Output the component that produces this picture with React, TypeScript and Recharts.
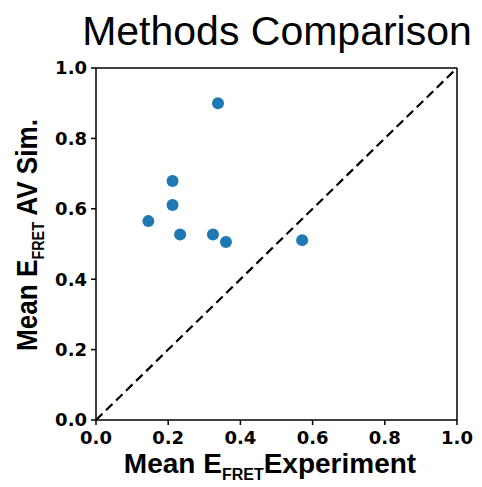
import React from 'react';
import {
  ScatterChart,
  Scatter,
  XAxis,
  YAxis,
  ReferenceLine,
} from 'recharts';

const experiment = [0.338, 0.212, 0.212, 0.145, 0.233, 0.324, 0.36, 0.571];
const avSim = [0.9, 0.679, 0.611, 0.565, 0.527, 0.527, 0.506, 0.511];
const ticks = [0, 0.2, 0.4, 0.6, 0.8, 1.0];

const points = experiment.map((x, i) => ({ x, y: avSim[i] }));

const tickStyle = {
  fill: '#000',
  fontFamily: 'DejaVu Sans',
  fontWeight: 'bold' as const,
  fontSize: 18,
};

const labelFont = 'Liberation Sans, Arial, sans-serif';

const XLabel = () => (
  <text x={270} y={473} textAnchor="middle" fontFamily={labelFont} fontWeight="bold" fontSize={28} fill="#000">
    Mean E
    <tspan fontSize={16} dy={7}>FRET</tspan>
    <tspan dy={-7}>Experiment</tspan>
  </text>
);

const YLabel = () => (
  <text
    x={0}
    y={0}
    transform="translate(37, 235) rotate(-90) scale(0.9, 1)"
    textAnchor="middle"
    fontFamily={labelFont}
    fontWeight="bold"
    fontSize={29}
    fill="#000"
  >
    Mean E
    <tspan fontSize={16} dy={7}>FRET</tspan>
    <tspan dy={-7}> AV Sim.</tspan>
  </text>
);

export default function App() {
  return (
    <div style={{ position: 'absolute', left: 0, top: 0, width: 482, height: 487, background: '#fff' }}>
      <ScatterChart width={482} height={487} margin={{ top: 68, right: 25, bottom: 37, left: 46 }}>
        <text x={277} y={45} textAnchor="middle" fontFamily={labelFont} fontSize={41} fill="#000">
          Methods Comparison
        </text>
        <XAxis
          type="number"
          dataKey="x"
          domain={[0, 1]}
          ticks={ticks}
          tickFormatter={(v: number) => v.toFixed(1)}
          tick={tickStyle}
          tickSize={5}
          tickMargin={6}
          height={30}
          axisLine={{ stroke: '#000', strokeWidth: 1.5 }}
          tickLine={{ stroke: '#000', strokeWidth: 1.5 }}
          allowDataOverflow
        />
        <YAxis
          type="number"
          dataKey="y"
          domain={[0, 1]}
          ticks={ticks}
          tickFormatter={(v: number) => v.toFixed(1)}
          tick={tickStyle}
          tickSize={5}
          tickMargin={4}
          width={50}
          axisLine={{ stroke: '#000', strokeWidth: 1.5 }}
          tickLine={{ stroke: '#000', strokeWidth: 1.5 }}
          allowDataOverflow
        />
        <ReferenceLine y={1} stroke="#000" strokeWidth={1.5} />
        <ReferenceLine x={1} stroke="#000" strokeWidth={1.5} />
        <ReferenceLine
          segment={[{ x: 0, y: 0 }, { x: 1, y: 1 }]}
          stroke="#000"
          strokeWidth={2.2}
          strokeDasharray="9 5"
        />
        <Scatter
          data={points}
          fill="#1f77b4"
          isAnimationActive={false}
          shape={(p: any) => <circle cx={p.cx} cy={p.cy} r={6} fill="#1f77b4" />}
        />
        <XLabel />
        <YLabel />
      </ScatterChart>
    </div>
  );
}
